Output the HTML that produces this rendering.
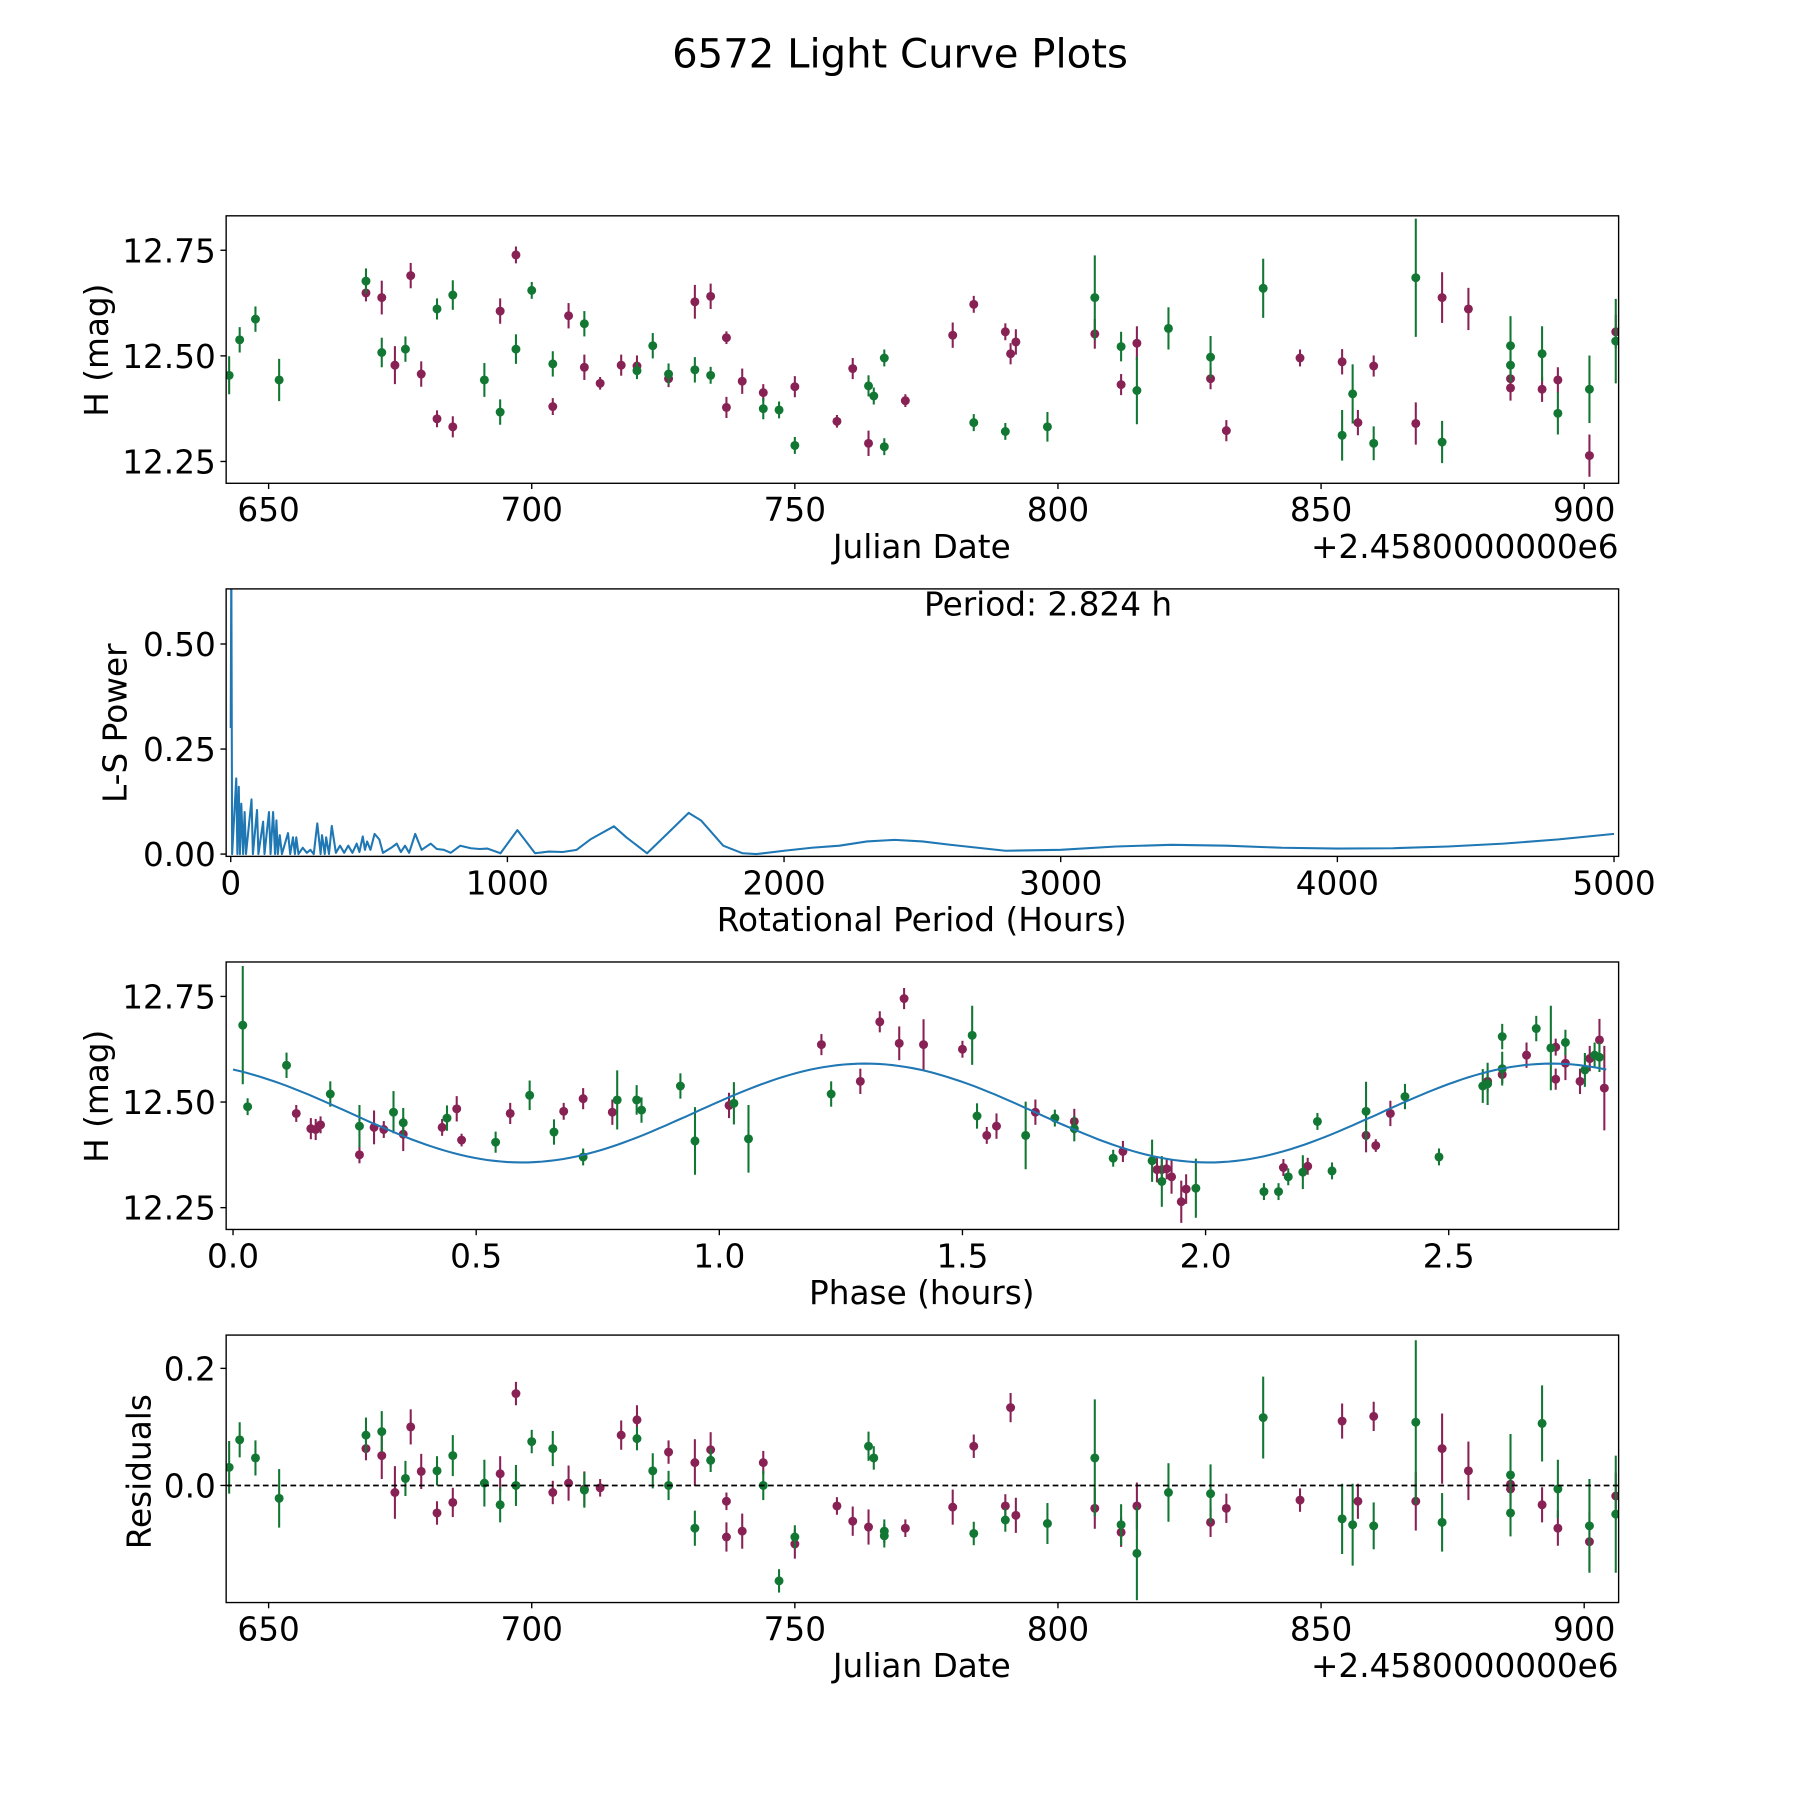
<!DOCTYPE html>
<html><head><meta charset="utf-8"><title>6572 Light Curve Plots</title>
<style>html,body{margin:0;padding:0;background:#fff}svg{display:block}text{font-family:"DejaVu Sans","Liberation Sans",sans-serif;fill:#000}</style>
</head><body>
<svg id="fig" xmlns="http://www.w3.org/2000/svg" width="1800" height="1800" viewBox="0 0 1568 1568">
<rect width="1568" height="1568" fill="#fff"/>
<text x="784" y="59" font-size="35" text-anchor="middle">6572 Light Curve Plots</text>
</svg>
<script>
// ---------- data ----------
const jdG=[642.5,644.5,647.5,652,668.5,671.5,676,682,685,691,694,697,700,704,710,720,723,726,731,734,744,747,750,764,765,767,767,784,790,798,807,812,815,821,829,839,854,856,860,868,873,886,886,892,895,901,906];
const magG=[12.454,12.538,12.587,12.443,12.677,12.508,12.516,12.611,12.644,12.443,12.367,12.516,12.655,12.481,12.576,12.465,12.524,12.457,12.467,12.454,12.375,12.372,12.288,12.429,12.405,12.495,12.285,12.342,12.321,12.332,12.638,12.522,12.418,12.565,12.497,12.660,12.312,12.410,12.293,12.685,12.296,12.524,12.478,12.505,12.364,12.421,12.535];
const errG=[0.045,0.03,0.03,0.05,0.03,0.035,0.03,0.025,0.035,0.04,0.03,0.035,0.02,0.03,0.03,0.02,0.03,0.025,0.03,0.02,0.025,0.02,0.02,0.025,0.02,0.02,0.02,0.02,0.02,0.035,0.1,0.035,0.08,0.05,0.05,0.07,0.06,0.07,0.04,0.14,0.05,0.07,0.04,0.065,0.05,0.08,0.1];
const resG=[0.031,0.078,0.047,-0.022,0.086,0.092,0.012,0.025,0.051,0.004,-0.033,0.0,0.075,0.063,-0.008,0.08,0.025,0.0,-0.073,0.043,0.0,-0.163,-0.088,0.067,0.047,-0.078,-0.086,-0.082,-0.059,-0.065,0.047,-0.067,-0.116,-0.012,-0.014,0.116,-0.057,-0.067,-0.069,0.108,-0.063,0.018,-0.047,0.106,-0.006,-0.069,-0.049];
const jdM=[668.5,671.5,674,677,679,682,685,694,697,704,707,710,713,717,720,726,731,734,737,737,740,744,750,758,761,764,771,780,784,790,791,792,807,812,815,829,832,846,854,857,860,868,873,878,886,886,892,895,901,906];
const magM=[12.649,12.638,12.478,12.690,12.457,12.351,12.332,12.606,12.739,12.380,12.595,12.473,12.435,12.478,12.476,12.446,12.628,12.641,12.543,12.378,12.440,12.413,12.427,12.345,12.470,12.293,12.394,12.549,12.622,12.557,12.505,12.533,12.552,12.432,12.530,12.446,12.323,12.495,12.486,12.342,12.476,12.340,12.638,12.611,12.446,12.424,12.421,12.443,12.264,12.557];
const errM=[0.02,0.04,0.045,0.03,0.03,0.02,0.025,0.03,0.02,0.02,0.03,0.03,0.015,0.025,0.025,0.02,0.04,0.03,0.015,0.025,0.03,0.02,0.025,0.015,0.025,0.03,0.015,0.03,0.02,0.02,0.025,0.03,0.035,0.025,0.04,0.025,0.025,0.02,0.03,0.03,0.025,0.05,0.06,0.05,0.02,0.03,0.03,0.03,0.05,0.04];
const resM=[0.063,0.051,-0.012,0.1,0.024,-0.047,-0.029,0.02,0.157,-0.012,0.004,-0.006,-0.004,0.086,0.112,0.057,0.039,0.061,-0.027,-0.088,-0.078,0.039,-0.1,-0.035,-0.061,-0.071,-0.073,-0.037,0.067,-0.035,0.133,-0.051,-0.039,-0.08,-0.035,-0.063,-0.039,-0.025,0.11,-0.027,0.118,-0.027,0.063,0.025,0.002,-0.006,-0.033,-0.073,-0.096,-0.018];
// phase-folded
const phG=[0.02,0.03,0.11,0.2,0.26,0.33,0.35,0.44,0.54,0.61,0.66,0.72,0.79,0.83,0.84,0.92,0.95,1.03,1.06,1.23,1.52,1.53,1.63,1.69,1.73,1.81,1.89,1.91,1.98,2.12,2.15,2.17,2.20,2.23,2.26,2.33,2.41,2.48,2.57,2.58,2.61,2.61,2.68,2.71,2.74,2.78,2.8,2.81];
const phMagG=[12.682,12.489,12.587,12.519,12.443,12.476,12.451,12.462,12.405,12.516,12.429,12.37,12.505,12.505,12.481,12.538,12.408,12.497,12.413,12.519,12.658,12.467,12.421,12.462,12.437,12.367,12.361,12.312,12.296,12.288,12.288,12.323,12.334,12.454,12.337,12.478,12.513,12.37,12.538,12.543,12.579,12.655,12.674,12.628,12.641,12.576,12.611,12.606];
const phErrG=[0.14,0.02,0.03,0.03,0.05,0.05,0.035,0.03,0.025,0.035,0.03,0.02,0.07,0.035,0.03,0.03,0.08,0.05,0.08,0.03,0.07,0.03,0.08,0.02,0.03,0.02,0.05,0.06,0.07,0.02,0.02,0.02,0.04,0.02,0.02,0.07,0.03,0.02,0.04,0.05,0.04,0.03,0.03,0.1,0.03,0.04,0.03,0.035];
const phM=[0.13,0.16,0.17,0.18,0.26,0.29,0.31,0.35,0.43,0.46,0.47,0.57,0.68,0.72,0.78,1.02,1.21,1.29,1.33,1.37,1.38,1.42,1.50,1.55,1.57,1.65,1.73,1.83,1.90,1.91,1.92,1.93,1.95,1.96,2.16,2.21,2.33,2.35,2.38,2.58,2.61,2.66,2.72,2.72,2.74,2.77,2.79,2.81,2.82];
const phMagM=[12.473,12.437,12.435,12.446,12.375,12.44,12.435,12.424,12.44,12.484,12.41,12.473,12.478,12.508,12.476,12.492,12.636,12.549,12.69,12.639,12.745,12.636,12.625,12.421,12.443,12.476,12.454,12.383,12.34,12.34,12.342,12.323,12.264,12.294,12.345,12.348,12.421,12.397,12.473,12.549,12.565,12.611,12.63,12.554,12.592,12.549,12.603,12.647,12.533];
const phErrM=[0.02,0.025,0.025,0.02,0.02,0.04,0.02,0.04,0.02,0.03,0.015,0.025,0.02,0.025,0.03,0.03,0.025,0.03,0.025,0.04,0.025,0.06,0.02,0.02,0.03,0.03,0.03,0.025,0.03,0.03,0.025,0.04,0.05,0.035,0.02,0.02,0.04,0.015,0.03,0.025,0.02,0.03,0.02,0.025,0.04,0.03,0.03,0.05,0.1];
const fitParams=[12.474,0.117,1.412,1.30]; // mean, amplitude, half-period, phase of max
// periodogram
const lsPeriod=[0,2,5,20,24,29,33,38,45,50,55,75,80,95,100,117,122,138,144,153,160,165,170,177,185,207,215,225,232,237,245,260,275,288,300,313,325,330,340,345,355,365,380,395,410,425,440,455,465,477,485,493,505,520,537,550,580,600,615,630,645,667,690,723,745,770,795,830,868,900,928,975,1036,1100,1150,1200,1250,1300,1385,1430,1505,1580,1655,1700,1780,1850,1900,2000,2100,2200,2300,2400,2500,2600,2800,3000,3200,3400,3600,3800,4000,4200,4400,4600,4800,5000];
const lsPower=[0.3,0.7,0.0,0.18,0.0,0.16,0.0,0.12,0.0,0.10,0.0,0.13,0.0,0.105,0.0,0.077,0.0,0.10,0.0,0.1,0.0,0.08,0.0,0.045,0.0,0.05,0.0,0.04,0.0,0.04,0.0,0.015,0.003,0.01,0.0,0.073,0.0,0.045,0.0,0.04,0.0,0.067,0.003,0.02,0.003,0.02,0.003,0.025,0.005,0.042,0.01,0.03,0.01,0.048,0.035,0.003,0.015,0.025,0.005,0.02,0.003,0.048,0.01,0.025,0.012,0.01,0.003,0.02,0.014,0.012,0.013,0.002,0.057,0.002,0.006,0.005,0.01,0.035,0.066,0.04,0.002,0.05,0.098,0.08,0.02,0.002,0.0,0.008,0.015,0.02,0.03,0.034,0.03,0.022,0.008,0.01,0.018,0.022,0.02,0.015,0.013,0.014,0.018,0.025,0.035,0.048];
const jdTicks=[650,700,750,800,850,900];
const magTicks=[12.25,12.50,12.75];
const lsXTicks=[0,1000,2000,3000,4000,5000];
const lsYTicks=[0,0.25,0.5];
const phTicks=[0,0.5,1.0,1.5,2.0,2.5];
const resTicks=[0,0.2];

// ---------- drawing ----------
const NS='http://www.w3.org/2000/svg';
const svg=document.getElementById('fig');
function mk(tag,attrs,parent){const e=document.createElementNS(NS,tag);for(const k in attrs)e.setAttribute(k,attrs[k]);(parent||svg).appendChild(e);return e;}
const GREEN='#117733',MAROON='#882255',BLUE='#1f77b4';
const L=197,R=1410,FS=28.5;
function lin(d0,d1,r0,r1){return v=>r0+(v-d0)/(d1-d0)*(r1-r0);}
function frame(g,top,bot){const r=mk('rect',{x:L,y:top,width:R-L,height:bot-top,fill:'none',stroke:'#000','stroke-width':1.2},g);

}
function xticks(g,ticks,sx,bot,fmt,name){ticks.forEach(t=>{const x=sx(t);
mk('line',{x1:x,y1:bot,x2:x,y2:bot+5,stroke:'#000','stroke-width':1.2},g);
const tx=mk('text',{x:x,y:bot+33,'font-size':FS,'text-anchor':'middle'},g);tx.textContent=fmt(t);

});}
function yticks(g,ticks,sy,fmt,name){ticks.forEach(t=>{const y=sy(t);
mk('line',{x1:L-5,y1:y,x2:L,y2:y,stroke:'#000','stroke-width':1.2},g);
const tx=mk('text',{x:L-9,y:y+10.5,'font-size':FS,'text-anchor':'end'},g);tx.textContent=fmt(t);

});}
function label(g,txt,x,y,rot,name){const t=mk('text',{x:x,y:y,'font-size':FS,'text-anchor':'middle',transform:rot?`rotate(-90 ${x} ${y})`:''},g);t.textContent=txt;

}
function errpts(g,xs,ys,es,sx,sy,col,name,top,bot){xs.forEach((v,i)=>{const x=sx(v);let y1=Math.max(top,sy(ys[i]+es[i])),y2=Math.min(bot,sy(ys[i]-es[i]));
const p=mk('g',{},g);


mk('line',{x1:x,y1:y1,x2:x,y2:y2,stroke:col,'stroke-width':1.8},p);
mk('circle',{cx:x,cy:sy(ys[i]),r:3.9,fill:col},p);});}
const f2=t=>t.toFixed(2);
function clip(id,top,bot){const c=mk('clipPath',{id:id},svg);mk('rect',{x:L,y:top,width:R-L,height:bot-top},c);}

// Panel 1
{const g=mk('g',{});
const top=188,bot=421,sx=lin(650,900,234,1380),sy=lin(12.25,12.75,402,218);
clip('c1',top,bot);
const cg=mk('g',{'clip-path':'url(#c1)'},g);
errpts(cg,jdM,magM,errM,sx,sy,MAROON,'maroon-point',top,bot);
errpts(cg,jdG,magG,errG,sx,sy,GREEN,'green-point',top,bot);
frame(g,top,bot);xticks(g,jdTicks,sx,bot,t=>String(t),'x-tick-label');yticks(g,magTicks,sy,f2,'y-tick-label');
label(g,'Julian Date',803,486,false,'x-axis-title');label(g,'H (mag)',94,305,true,'y-axis-title');
const o=mk('text',{x:R,y:486,'font-size':FS,'text-anchor':'end'},g);o.textContent='+2.4580000000e6';

}

// Panel 2
{const g=mk('g',{});
const top=513,bot=746,sx=lin(0,5000,201,1406),sy=lin(0,0.5,744,561);
clip('c2',top,bot);
const d=lsPeriod.map((p,i)=>(i?'L':'M')+sx(p).toFixed(1)+','+sy(lsPower[i]).toFixed(1)).join(' ');
const pl=mk('path',{d:d,fill:'none',stroke:BLUE,'stroke-width':1.8,'stroke-linejoin':'round','clip-path':'url(#c2)'},g);


frame(g,top,bot);xticks(g,lsXTicks,sx,bot,t=>String(t),'x-tick-label');yticks(g,lsYTicks,sy,f2,'y-tick-label');
label(g,'Rotational Period (Hours)',803,811,false,'x-axis-title');label(g,'L-S Power',110,630,true,'y-axis-title');
const pt=mk('text',{x:913,y:536,'font-size':FS,'text-anchor':'middle'},g);pt.textContent='Period: 2.824 h';

}

// Panel 3
{const g=mk('g',{});
const top=838,bot=1071,sx=lin(0,2.5,203,1262),sy=lin(12.25,12.75,1052,868);
clip('c3',top,bot);
const cg=mk('g',{'clip-path':'url(#c3)'},g);
errpts(cg,phM,phMagM,phErrM,sx,sy,MAROON,'maroon-point',top,bot);
errpts(cg,phG,phMagG,phErrG,sx,sy,GREEN,'green-point',top,bot);
const [mu,a,P,p0]=fitParams;let d='';for(let i=0;i<=200;i++){const p=2.824*i/200;const v=mu+a*Math.cos(2*Math.PI*(p-p0)/P);d+=(i?'L':'M')+sx(p).toFixed(1)+','+sy(v).toFixed(1);}
const fl=mk('path',{d:d,fill:'none',stroke:BLUE,'stroke-width':1.8},g);


frame(g,top,bot);xticks(g,phTicks,sx,bot,t=>t.toFixed(1),'x-tick-label');yticks(g,magTicks,sy,f2,'y-tick-label');
label(g,'Phase (hours)',803,1136,false,'x-axis-title');label(g,'H (mag)',94,955,true,'y-axis-title');}

// Panel 4
{const g=mk('g',{});
const top=1163,bot=1396,sx=lin(650,900,234,1380),sy=lin(0,0.2,1294,1192);
clip('c4',top,bot);
const cg=mk('g',{'clip-path':'url(#c4)'},g);
const zl=mk('line',{x1:L,y1:sy(0),x2:R,y2:sy(0),stroke:'#000','stroke-width':1.5,'stroke-dasharray':'5,3'},g);


errpts(cg,jdM,resM,errM,sx,sy,MAROON,'maroon-residual',top,bot);
errpts(cg,jdG,resG,errG,sx,sy,GREEN,'green-residual',top,bot);
frame(g,top,bot);xticks(g,jdTicks,sx,bot,t=>String(t),'x-tick-label');yticks(g,resTicks,sy,t=>t.toFixed(1),'y-tick-label');
label(g,'Julian Date',803,1461,false,'x-axis-title');label(g,'Residuals',131,1282,true,'y-axis-title');
const o=mk('text',{x:R,y:1461,'font-size':FS,'text-anchor':'end'},g);o.textContent='+2.4580000000e6';

}
</script>
</body></html>
